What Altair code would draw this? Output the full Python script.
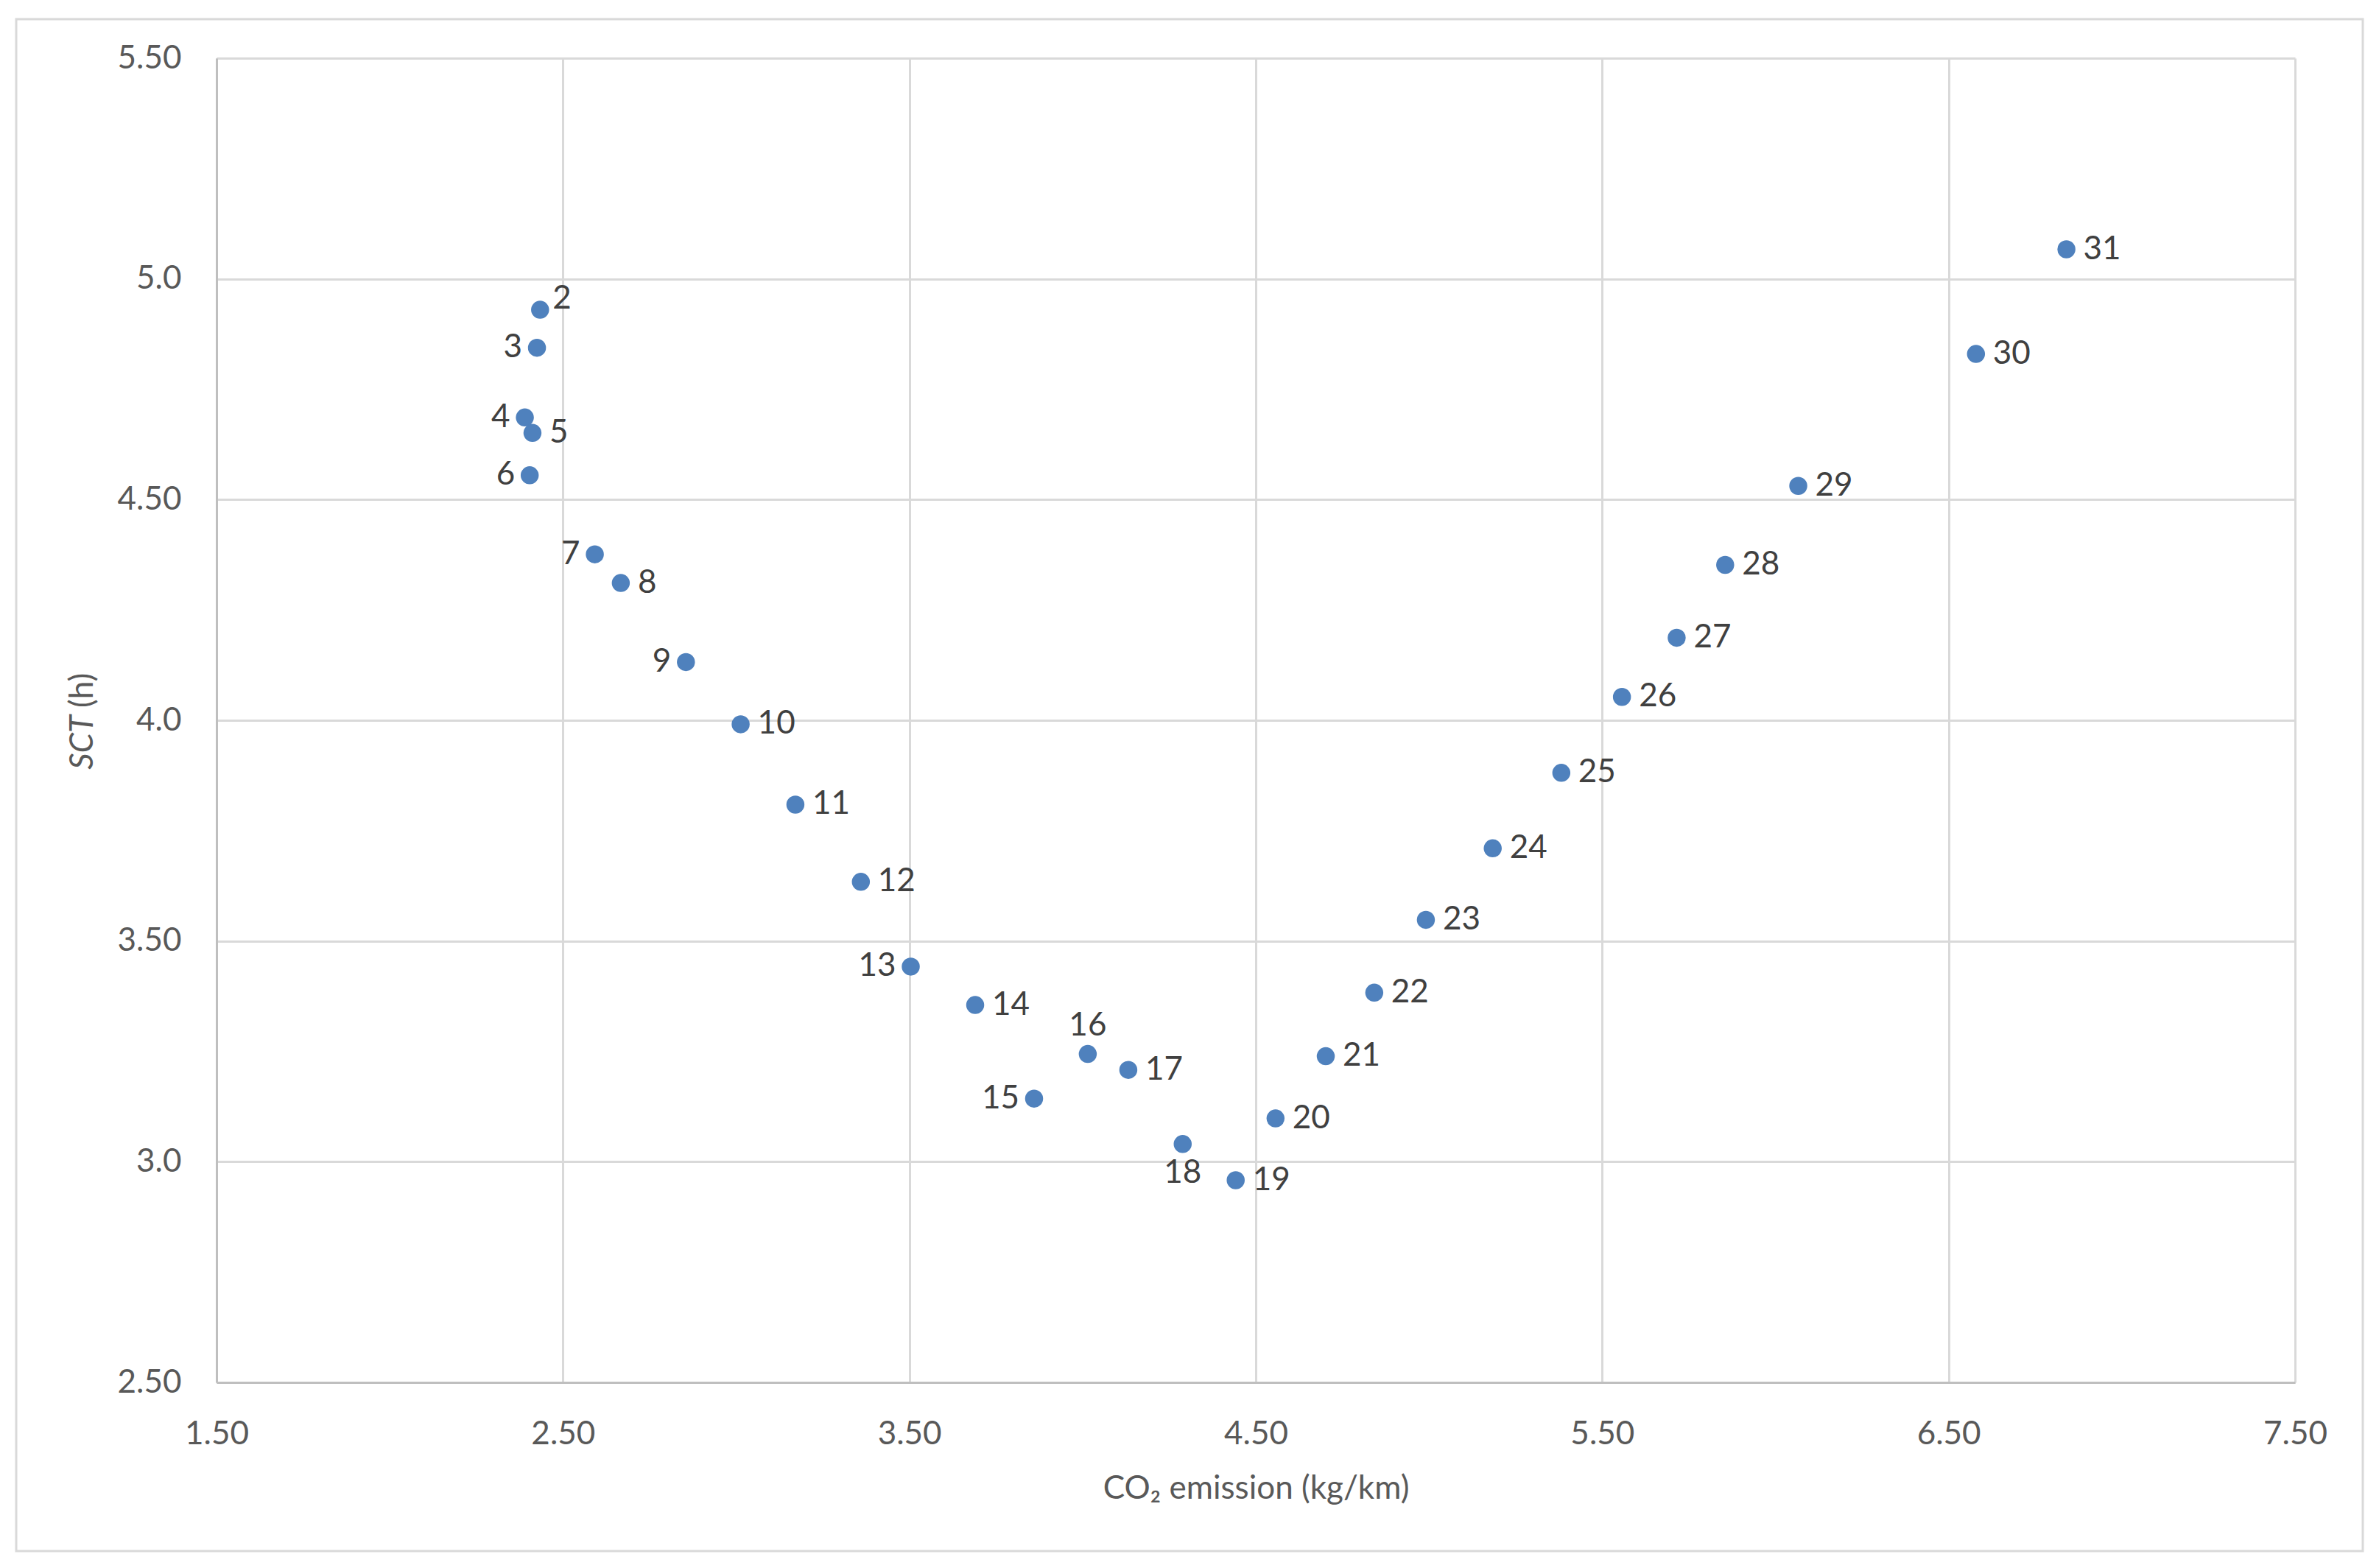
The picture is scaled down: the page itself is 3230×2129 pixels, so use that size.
import altair as alt
import pandas as pd

# ---- data ----
point_ids = list(range(2, 32))
co2 = [2.434, 2.425, 2.390, 2.412, 2.404, 2.592, 2.667, 2.855, 3.013, 3.171,
       3.360, 3.504, 3.690, 3.860, 4.015, 4.132, 4.289, 4.442, 4.557, 4.702,
       4.842, 4.991, 5.184, 5.382, 5.557, 5.715, 5.855, 6.066, 6.579, 6.840]
sct = [4.930, 4.844, 4.686, 4.651, 4.555, 4.376, 4.311, 4.132, 3.991, 3.809,
       3.634, 3.442, 3.355, 3.143, 3.244, 3.208, 3.040, 2.958, 3.098, 3.239,
       3.383, 3.548, 3.710, 3.881, 4.053, 4.187, 4.352, 4.531, 4.830, 5.067]

# label placement groups
left_ids = [3, 4, 6, 7, 9, 13, 15]
above_ids = [16]
below_ids = [18]
upright_ids = [2]

x_ticks = [1.5, 2.5, 3.5, 4.5, 5.5, 6.5, 7.5]
x_tick_labels = ["1.50", "2.50", "3.50", "4.50", "5.50", "6.50", "7.50"]
y_ticks = [2.5, 3.0, 3.5, 4.0, 4.5, 5.0, 5.5]
y_tick_labels = ["2.50", "3.0", "3.50", "4.0", "4.50", "5.0", "5.50"]

x_title = "CO\u2082 emission (kg/km)"
y_title_italic = "SCT"
y_title_rest = "(h)"

# ---- build ----
def pos(i):
    if i in left_ids:
        return "left"
    if i in above_ids:
        return "above"
    if i in below_ids:
        return "below"
    if i in upright_ids:
        return "upright"
    return "right"

df = pd.DataFrame({"id": point_ids, "co2": co2, "sct": sct})
df["label"] = df["id"].astype(str)
df["pos"] = df["id"].map(pos)


def label_expr(vals, labels):
    parts = [f"datum.value == {v} ? '{l}'" for v, l in zip(vals, labels)]
    return " : ".join(parts) + " : ''"


FONT = "Lato"
FS = 44
GRID = "#d9d9d9"
AXISLINE = "#bfbfbf"
TICKCOL = "#595959"
LABCOL = "#404040"
BLUE = "#4f81bd"

X = alt.X(
    "co2:Q",
    scale=alt.Scale(domain=[1.5, 7.5], nice=False, zero=False),
    axis=alt.Axis(
        values=x_ticks,
        labelExpr=label_expr(x_ticks, x_tick_labels),
        labelFlush=False,
        labelOverlap=False,
        tickSize=0,
        domainColor=AXISLINE,
        domainWidth=3,
        gridColor=GRID,
        gridWidth=3,
        labelFont=FONT,
        labelFontSize=FS,
        labelColor=TICKCOL,
        labelPadding=48,
        title=x_title,
        titleFont=FONT,
        titleFontSize=FS,
        titleFontWeight="normal",
        titleColor=TICKCOL,
        titlePadding=30,
    ),
)
Y = alt.Y(
    "sct:Q",
    scale=alt.Scale(domain=[2.5, 5.5], nice=False, zero=False),
    axis=alt.Axis(
        values=y_ticks,
        labelExpr=label_expr(y_ticks, y_tick_labels),
        labelFlush=False,
        labelOverlap=False,
        tickSize=0,
        domainColor=AXISLINE,
        domainWidth=3,
        gridColor=GRID,
        gridWidth=3,
        labelFont=FONT,
        labelFontSize=FS,
        labelColor=TICKCOL,
        labelPadding=48,
        title=None,
    ),
)

base = alt.Chart(df)

border = alt.Chart(pd.DataFrame({"a": [0]})).mark_rect(
    filled=False, stroke=GRID, strokeWidth=3
).encode(
    x=alt.value(-272), x2=alt.value(2914), y=alt.value(-53), y2=alt.value(2027)
)

points = base.mark_circle(size=600, color=BLUE, opacity=1).encode(x=X, y=Y)


def labels(p, **kw):
    return base.transform_filter(alt.datum.pos == p).mark_text(
        font=FONT, fontSize=FS, color=LABCOL, **kw
    ).encode(x=X, y=Y, text="label:N")


lab_right = labels("right", align="left", baseline="middle", dx=23)
lab_left = labels("left", align="right", baseline="middle", dx=-20)
lab_above = labels("above", align="center", baseline="middle", dy=-38)
lab_below = labels("below", align="center", baseline="middle", dy=40)
lab_upright = labels("upright", align="left", baseline="middle", dx=17, dy=-15)

ytitle1 = alt.Chart(pd.DataFrame({"t": [y_title_italic]})).mark_text(
    font=FONT, fontSize=FS, color=TICKCOL, fontStyle="italic",
    angle=270, align="right", baseline="alphabetic"
).encode(x=alt.value(-168), y=alt.value(892), text="t:N")

ytitle2 = alt.Chart(pd.DataFrame({"t": [y_title_rest]})).mark_text(
    font=FONT, fontSize=FS, color=TICKCOL,
    angle=270, align="left", baseline="alphabetic"
).encode(x=alt.value(-168), y=alt.value(882), text="t:N")

chart = alt.layer(
    border, points, lab_right, lab_left, lab_above, lab_below, lab_upright,
    ytitle1, ytitle2
).properties(
    width=2822,
    height=1798,
    padding={"left": 12, "top": 16, "right": 5, "bottom": 5},
    background="white",
).configure_view(stroke=None)

chart.save("out.html", embed_options={"renderer": "svg", "actions": False})
